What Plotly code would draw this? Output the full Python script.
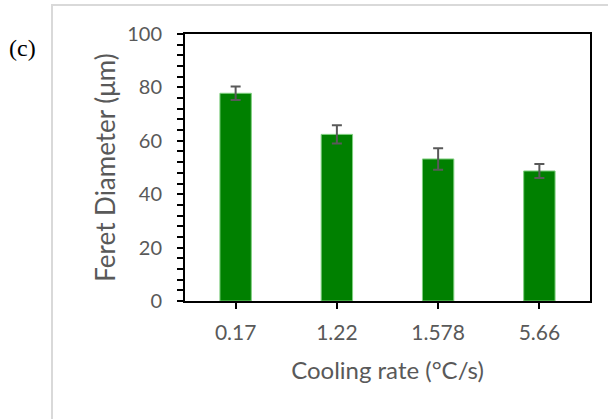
import plotly.graph_objects as go

categories = ["0.17", "1.22", "1.578", "5.66"]
feret_diameter = [77.8, 62.4, 53.2, 48.7]
error_values = [2.5, 3.4, 4.0, 2.6]
y_ticks = [0, 20, 40, 60, 80, 100]

W, H = 608, 419
L, R, T, B = 185, 18, 34, 118
pw, ph = W - L - R, H - T - B

def px_x(x):
    return (x - L) / pw

def px_y(y):
    return (H - B - y) / ph

fig = go.Figure()
fig.add_trace(go.Bar(
    x=categories, y=feret_diameter,
    marker=dict(color="#008000", line=dict(color="#7fcf7f", width=1)),
    width=0.31,
    error_y=dict(type="data", array=error_values, visible=True,
                 color="#595959", thickness=2, width=5),
))

font_main = "Lato, Calibri, Carlito, sans-serif"
fig.update_layout(
    width=W, height=H,
    margin=dict(l=L, r=R, t=T, b=B, pad=0),
    plot_bgcolor="white", paper_bgcolor="white",
    showlegend=False,
    font=dict(family=font_main, color="#595959", size=20),
    xaxis=dict(
        showline=True, linecolor="black", linewidth=2, mirror=True,
        ticks="outside", ticklen=6, tickwidth=2, tickcolor="black",
        tickfont=dict(size=21, color="#595959"), ticklabelstandoff=6,
        title=dict(text="Cooling rate (°C/s)", font=dict(size=24, color="#595959"), standoff=19),
        showgrid=False,
    ),
    yaxis=dict(
        range=[0, 100], tickvals=y_ticks,
        showline=True, linecolor="black", linewidth=2, mirror=True,
        ticks="outside", ticklen=6, tickwidth=2, tickcolor="black",
        minor=dict(dtick=4, ticks="outside", ticklen=6, tickwidth=2, tickcolor="black"),
        tickfont=dict(size=20, color="#595959"), ticklabelstandoff=11,
        title=dict(text="Feret Diameter (μm)", font=dict(size=26, color="#595959"), standoff=4),
        showgrid=False, zeroline=False,
    ),
)

# light gray frame of the figure panel
fig.add_shape(type="rect", xref="paper", yref="paper",
              x0=px_x(52), x1=px_x(640), y0=px_y(440), y1=px_y(5),
              line=dict(color="#d9d9d9", width=2), fillcolor="rgba(0,0,0,0)", layer="below")

fig.add_annotation(text="(c)", xref="paper", yref="paper",
                   x=px_x(7), y=px_y(48), xanchor="left", yanchor="middle",
                   showarrow=False, font=dict(family="Liberation Serif, Times New Roman, serif", size=24, color="black"))

fig.write_html("out.html")
